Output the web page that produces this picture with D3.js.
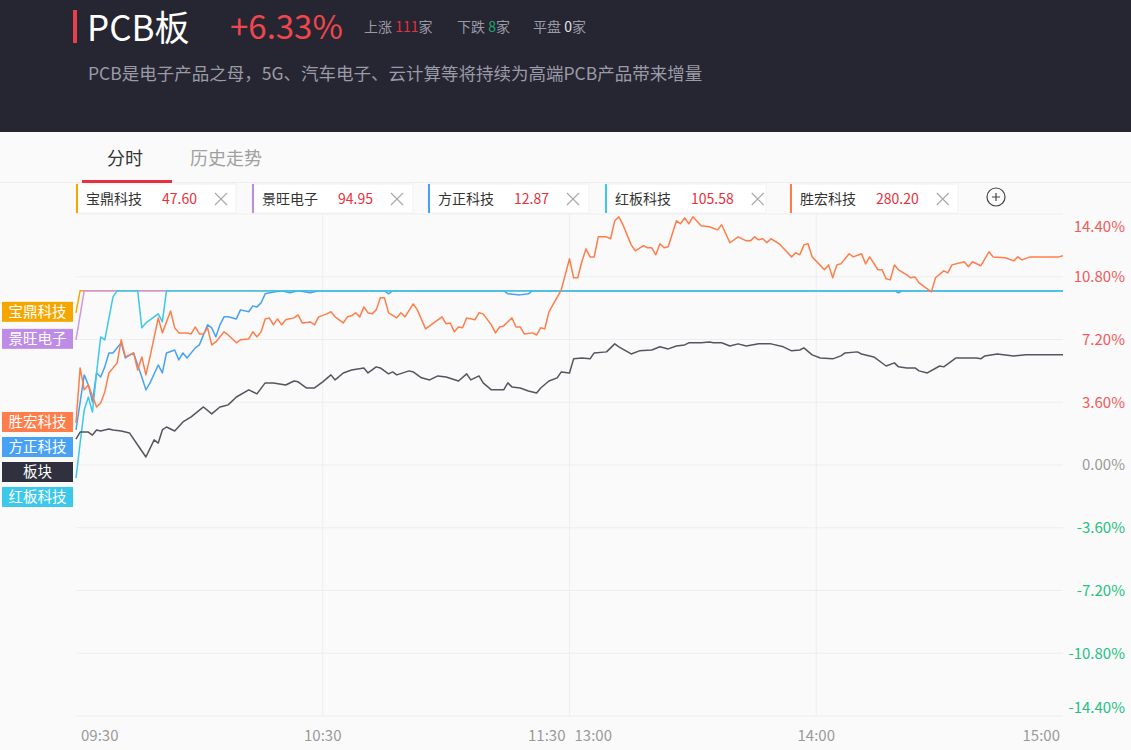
<!DOCTYPE html>
<html lang="zh-CN">
<head>
<meta charset="UTF-8">
<script src="https://d3js.org/d3.v7.min.js"></script>
<title>PCB板 分时</title>
<style>
  body { margin: 0; background: #fafafa; }
  svg { display: block; font-family: "Noto Sans CJK SC", "Microsoft YaHei", sans-serif; }
</style>
</head>
<body>
<div id="chart"></div>
<script>
// ---- data ----
var boardName = "PCB板";
var boardChange = "+6.33%";
var upCount = 111, downCount = 8, flatCount = 0;
var boardDesc = "PCB是电子产品之母，5G、汽车电子、云计算等将持续为高端PCB产品带来增量";

var stockNames = ["宝鼎科技", "景旺电子", "方正科技", "红板科技", "胜宏科技"];
var stockPrices = ["47.60", "94.95", "12.87", "105.58", "280.20"];

var timeLabels = ["09:30", "10:30", "11:30", "13:00", "14:00", "15:00"];
var timeIndex = [0, 60, 120, 120, 180, 240];   // trading minute of each label
var yTicks = [14.4, 10.8, 7.2, 3.6, 0, -3.6, -7.2, -10.8, -14.4];

// [trading minute, change %]
var baoDing = [[0, 8.73], [1, 10], [240, 10]];
var jingWang = [[0, 7.18], [2, 10], [240, 10]];
var fangZheng = [[0,2.01],[2,5.17],[3,4.59],[4,3.62],[5,5.28],[6,5.05],[7,5.63],[8,6.43],[9,6.43],[11,7.01],[12,6.14],
  [14,6.43],[16,5.05],[17,4.31],[18,4.71],[20,5.74],[21,5.28],[22,6.43],[24,6.60],[25,6.03],[26,6.43],[27,6.14],
  [29,6.72],[30,6.89],[32,8.04],[33,7.87],[34,7.35],[35,8.04],[36,8.50],[37,8.50],[39,8.38],[40,8.90],[42,8.79],
  [43,9.13],[44,9.07],[45,9.30],[46,9.82],[47,9.88],[50,10],[52,9.88],[54,10],[57,9.88],[59,10],[75,10],[76,9.82],
  [77,10],[104,10],[105,9.82],[108,9.76],[110,9.82],[111,10],[199,10],[200,9.88],[201,10],[240,10]];
var hongBan = [[0,-0.75],[1,1.26],[2,3.16],[3,3.90],[4,3.04],[5,5.28],[6,7.35],[7,7.18],[9,9.65],[10,10],[15,10],
  [16,7.87],[17,8.15],[19,8.50],[20,8.67],[21,8.21],[22,10],[240,10]];
var shengHong = [[0,2.41],[1,5.57],[2,4.31],[3,4.59],[5,3.33],[6,3.56],[7,4.19],[8,5.28],[10,5.86],[11,7.18],[12,6.20],
  [13,6.32],[14,6.43],[15,5.45],[16,6.20],[17,5.17],[18,6.20],[20,8.44],[21,7.58],[23,8.84],[24,7.87],[25,7.58],
  [27,7.58],[28,7.52],[29,7.92],[30,7.52],[31,7.52],[32,7.87],[33,6.89],[34,7.06],[36,7.64],[37,7.46],[39,7.01],
  [40,7.18],[42,7.23],[43,7.64],[44,7.35],[45,7.64],[46,8.38],[47,8.44],[48,8.04],[49,8.38],[50,8.04],[51,8.33],
  [53,8.44],[54,8.61],[55,8.15],[57,8.21],[58,8.04],[59,8.50],[61,8.67],[62,8.79],[63,8.50],[65,8.15],[66,8.50],
  [67,8.56],[68,8.73],[69,8.50],[70,9.07],[71,8.73],[72,8.67],[73,8.90],[74,9.59],[75,9.59],[76,8.73],[78,8.44],
  [79,8.73],[80,8.50],[82,9.24],[83,8.90],[85,7.81],[87,8.15],[89,8.50],[90,8.10],[91,8.15],[92,7.64],[93,7.92],
  [94,7.87],[95,8.44],[97,8.33],[98,8.73],[99,8.67],[101,8.04],[102,7.58],[103,7.92],[104,7.98],[106,8.44],
  [107,7.92],[108,7.92],[109,7.52],[111,7.58],[112,7.46],[113,7.87],[114,7.81],[115,8.79],[118,10.05],[120,11.83],
  [121,10.74],[122,10.74],[123,11.66],[124,12.40],[125,11.94],[126,11.94],[127,13.09],[129,13.09],[130,12.98],
  [131,14.01],[132,14.24],[133,13.78],[135,12.63],[136,12.29],[138,12.58],[139,12.46],[140,12.46],[141,12.06],
  [142,12.69],[143,12.46],[144,12.52],[146,14.01],[147,13.84],[148,14.18],[149,13.84],[150,14.24],[152,13.73],
  [154,13.67],[156,13.49],[157,13.78],[159,12.75],[161,13.09],[163,12.86],[164,12.86],[165,13.09],[166,12.92],
  [167,12.98],[168,12.75],[169,12.98],[171,12.69],[174,11.94],[175,12.17],[176,12.06],[177,12.63],[178,12.69],
  [179,11.94],[182,11.20],[183,11.48],[184,10.74],[185,11.48],[186,11.54],[188,12.12],[189,11.94],[191,12.12],
  [192,11.54],[193,11.94],[195,11.20],[196,11.20],[197,10.68],[198,10.62],[199,11.48],[200,11.20],[202,10.91],
  [203,10.74],[204,10.79],[205,10.45],[208,9.93],[209,10.74],[211,11.14],[212,11.02],[213,11.48],[216,11.66],
  [217,11.37],[218,11.66],[220,11.43],[222,12.23],[223,11.94],[226,11.89],[228,11.71],[229,11.94],[230,11.77],
  [232,11.94],[234,11.94],[239,11.94],[240,12.00]];
var sector = [[0,1.49],[1,1.89],[3,1.89],[4,1.72],[5,2.01],[6,1.95],[8,2.07],[9,2.01],[11,1.95],[13,1.84],[15,1.15],
  [17,0.46],[19,1.44],[20,1.26],[21,2.01],[22,2.18],[24,1.95],[26,2.47],[28,2.76],[31,3.33],[33,2.93],[35,3.33],
  [36,3.39],[37,3.45],[39,3.90],[42,4.31],[44,4.08],[46,4.71],[48,4.71],[51,4.59],[53,4.82],[54,4.77],[56,4.42],
  [58,4.42],[60,4.77],[62,5.17],[63,4.88],[65,5.28],[67,5.45],[70,5.57],[71,5.28],[73,5.63],[74,5.57],[76,5.23],
  [77,5.34],[78,5.17],[81,5.40],[82,5.34],[84,5.00],[86,4.88],[88,5.11],[90,5.05],[93,4.82],[95,5.23],[96,4.88],
  [98,5.11],[99,4.71],[101,4.31],[104,4.31],[105,4.71],[106,4.48],[108,4.42],[110,4.25],[112,4.13],[113,4.42],
  [115,4.82],[117,5.00],[118,5.34],[120,5.28],[121,6.09],[123,6.14],[125,6.09],[126,6.43],[129,6.49],[131,6.95],
  [132,6.78],[135,6.37],[137,6.55],[140,6.60],[142,6.78],[144,6.66],[146,6.83],[148,6.89],[149,7.01],[152,7.01],
  [154,7.06],[155,7.01],[157,7.01],[159,6.83],[161,6.95],[163,6.83],[166,6.95],[169,6.95],[172,6.78],[174,6.55],
  [176,6.60],[177,6.72],[179,6.32],[181,6.14],[184,6.09],[186,6.26],[187,6.43],[190,6.49],[191,6.37],[194,6.20],
  [197,5.68],[199,5.86],[200,5.63],[202,5.57],[204,5.57],[205,5.40],[207,5.28],[210,5.68],[211,5.63],[213,5.97],
  [214,6.14],[219,6.14],[220,6.09],[221,6.26],[224,6.37],[228,6.26],[231,6.32],[235,6.32],[240,6.33]];

// ---- styles ----
var colors = {
  "宝鼎科技": "#f5a700",
  "景旺电子": "#be8ce6",
  "方正科技": "#47a2f5",
  "红板科技": "#3cc8ea",
  "胜宏科技": "#ff7d4a",
  "板块": "#2f313e"
};
var lineColors = Object.assign({}, colors, { "板块": "#55555f", "景旺电子": "#cf96e0" });

var width = 1131, height = 750;
var svg = d3.select("#chart").append("svg")
  .attr("width", width)
  .attr("height", height);

// ---- header ----
svg.append("rect").attr("width", width).attr("height", 132).attr("fill", "#262532");
svg.append("rect").attr("x", 73).attr("y", 10).attr("width", 4).attr("height", 33).attr("fill", "#e8404a");
svg.append("text").attr("x", 87).attr("y", 41).attr("fill", "#fff")
  .attr("font-size", 35).text(boardName);
svg.append("text").attr("x", 230).attr("y", 39).attr("fill", "#f0474e")
  .attr("font-size", 33).text(boardChange);

var stats = svg.append("text").attr("x", 364).attr("y", 32).attr("font-size", 14).attr("fill", "#9a9aa6");
stats.append("tspan").text("上涨 ");
stats.append("tspan").attr("fill", "#e8303a").text(upCount);
stats.append("tspan").text("家");
stats.append("tspan").attr("x", 457).text("下跌 ");
stats.append("tspan").attr("fill", "#1fa56c").text(downCount);
stats.append("tspan").text("家");
stats.append("tspan").attr("x", 533).text("平盘 ");
stats.append("tspan").attr("fill", "#e6e6e6").text(flatCount);
stats.append("tspan").text("家");

svg.append("text").attr("x", 88).attr("y", 80).attr("font-size", 17.5).attr("fill", "#9b9ba6").text(boardDesc);

// ---- tabs ----
svg.append("text").attr("x", 107).attr("y", 165).attr("font-size", 18).attr("fill", "#333").text("分时");
svg.append("text").attr("x", 190).attr("y", 165).attr("font-size", 18).attr("fill", "#a0a0a0").text("历史走势");
svg.append("line").attr("x1", 0).attr("x2", width).attr("y1", 182.5).attr("y2", 182.5).attr("stroke", "#eee");
svg.append("rect").attr("x", 82).attr("y", 180).attr("width", 90).attr("height", 3).attr("fill", "#e5323e");

// ---- stock legend boxes ----
var boxX = [76, 252, 428, 605, 790];
var boxW = [160, 161, 161, 161, 168];
var boxes = svg.selectAll(".box").data(stockNames).enter().append("g")
  .attr("class", "box")
  .attr("transform", (d, i) => `translate(${boxX[i]},184)`);
boxes.append("rect").attr("width", (d, i) => boxW[i]).attr("height", 29)
  .attr("fill", "#fff").attr("stroke", "#f0f0f0");
boxes.append("rect").attr("width", 2).attr("height", 29).attr("fill", d => colors[d]);
boxes.append("text").attr("x", 10).attr("y", 20).attr("font-size", 14).attr("fill", "#333").text(d => d);
boxes.append("text").attr("class", "price").attr("x", 86).attr("y", 20).attr("font-size", 14).attr("fill", "#e8303a")
  .text((d, i) => stockPrices[i]);
boxes.each(function(d, i) {
  var g = d3.select(this);
  var end = 86 + g.select(".price").node().getComputedTextLength();
  var cx = end + 24, cy = 15;
  g.append("path")
    .attr("d", `M${cx - 6},${cy - 6}L${cx + 6},${cy + 6}M${cx + 6},${cy - 6}L${cx - 6},${cy + 6}`)
    .attr("stroke", "#aaa").attr("stroke-width", 1.2);
});
var plus = svg.append("g").attr("transform", "translate(996,197)");
plus.append("circle").attr("r", 9).attr("fill", "none").attr("stroke", "#444").attr("stroke-width", 1.2);
plus.append("path").attr("d", "M-4,0H4M0,-4V4").attr("stroke", "#444").attr("stroke-width", 1.2);

// ---- chart ----
var x = d3.scaleLinear().domain([0, 240]).range([76, 1063]);
var y = d3.scaleLinear().domain([-14.4, 14.4]).range([716, 214]);

var grid = svg.append("g");
grid.selectAll(".h").data(yTicks).enter().append("line")
  .attr("x1", x(0)).attr("x2", x(240))
  .attr("y1", d => y(d)).attr("y2", d => y(d))
  .attr("stroke", "#eeeeee");
grid.selectAll(".v").data([60, 120, 180]).enter().append("line")
  .attr("x1", d => x(d)).attr("x2", d => x(d))
  .attr("y1", y(14.4)).attr("y2", y(-14.4))
  .attr("stroke", "#eeeeee");

// right axis labels
svg.append("g").selectAll("text").data(yTicks).enter().append("text")
  .attr("x", 1125)
  .attr("y", (d, i) => y(d) + (i === 0 ? 13 : i === yTicks.length - 1 ? -8 : 0))
  .attr("dy", "0.35em")
  .attr("text-anchor", "end")
  .attr("font-size", 15)
  .attr("fill", d => d > 0 ? "#f25a5c" : d < 0 ? "#25c184" : "#9a9a9a")
  .text(d => d.toFixed(2) + "%");

// time labels
var anchors = ["start", "middle", "end", "start", "middle", "end"];
var shifts = [5, 0, -4, 5, 0, -3];
svg.append("g").selectAll("text").data(timeLabels).enter().append("text")
  .attr("x", (d, i) => x(timeIndex[i]) + shifts[i])
  .attr("y", 741)
  .attr("text-anchor", (d, i) => anchors[i])
  .attr("font-size", 15)
  .attr("fill", "#9a9a9a")
  .text(d => d);

// lines
var line = d3.line().x(d => x(d[0])).y(d => y(d[1]));
var series = [
  { name: "宝鼎科技", values: baoDing },
  { name: "景旺电子", values: jingWang },
  { name: "方正科技", values: fangZheng },
  { name: "红板科技", values: hongBan },
  { name: "胜宏科技", values: shengHong },
  { name: "板块", values: sector }
];
svg.append("g").selectAll("path").data(series).enter().append("path")
  .attr("d", d => line(d.values))
  .attr("fill", "none")
  .attr("stroke", d => lineColors[d.name])
  .attr("stroke-width", 1.5)
  .attr("stroke-linejoin", "round");

// left start tags, pushed apart so they do not overlap
var tags = series.map(s => ({ name: s.name, y: y(s.values[0][1]) - 1 }))
  .sort((a, b) => a.y - b.y);
tags.forEach((t, i) => { if (i > 0) t.y = Math.max(t.y, tags[i - 1].y + 25); });
var tag = svg.append("g").selectAll("g").data(tags).enter().append("g")
  .attr("transform", d => `translate(2,${d.y - 10})`);
tag.append("rect").attr("width", 71).attr("height", 20).attr("fill", d => colors[d.name]);
tag.append("text").attr("x", 35.5).attr("y", 15).attr("text-anchor", "middle")
  .attr("font-size", 14.5).attr("fill", "#fff").text(d => d.name);
</script>
</body>
</html>
